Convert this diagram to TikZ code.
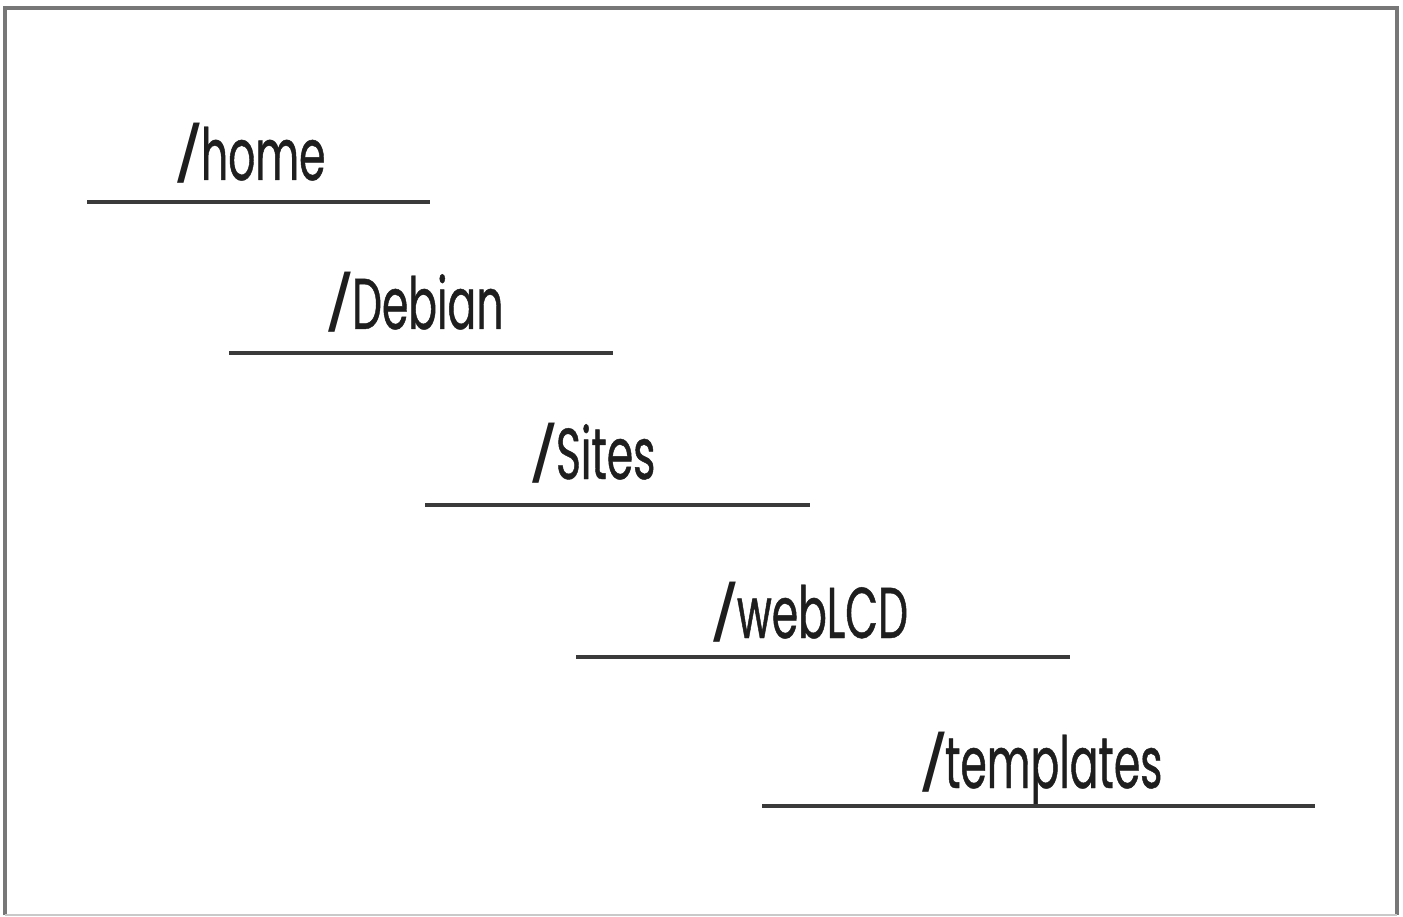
\documentclass[tikz,border=0pt]{standalone}
\usepackage{fontspec}
\newfontfamily\dirfont[FakeStretch=0.59,FakeBold=0.6]{Poppins}
\newfontfamily\slashfont{Liberation Sans}
\newcommand{\dirsl}{\raisebox{-3pt}{\slashfont\fontsize{82}{82}\selectfont/}\kern1pt}
\definecolor{framegray}{HTML}{777777}
\definecolor{linegray}{HTML}{3A3A3A}
\definecolor{textgray}{HTML}{1E1E1E}
\begin{document}
\begin{tikzpicture}[x=1pt,y=-1pt,
  dirlabel/.style={anchor=base west,inner sep=0pt,text=textgray,font=\dirfont\fontsize{72}{74}\selectfont},
  rule/.style={draw=linegray,line width=3.5pt},
  frameline/.style={draw=framegray,line width=4pt}]
\useasboundingbox (0,0) rectangle (1403,917);
\fill[white] (0,0) rectangle (1403,917);
\draw[frameline] (5,915) -- (5,8) -- (1397,8) -- (1397,915);
\draw[draw=framegray!40,line width=2pt] (5,915) -- (1397,915);
\node[dirlabel] (home) at (177,180) {\dirsl home};
\node[dirlabel] (debian) at (328,329) {\dirsl Debian};
\node[dirlabel] (sites) at (532,479) {\dirsl Sites};
\node[dirlabel] (weblcd) at (713,638) {\dirsl webLCD};
\node[dirlabel] (templates) at (922,788) {\dirsl\kern-1pt templates};
\coordinate (h1) at (87,202); \coordinate (h2) at (430,202);
\coordinate (d1) at (229,353); \coordinate (d2) at (613,353);
\coordinate (s1) at (425,505); \coordinate (s2) at (810,505);
\coordinate (w1) at (576,657); \coordinate (w2) at (1070,657);
\coordinate (t1) at (762,806); \coordinate (t2) at (1315,806);
\draw[rule] (h1) -- (h2);
\draw[rule] (d1) -- (d2);
\draw[rule] (s1) -- (s2);
\draw[rule] (w1) -- (w2);
\draw[rule] (t1) -- (t2);
\end{tikzpicture}
\end{document}
